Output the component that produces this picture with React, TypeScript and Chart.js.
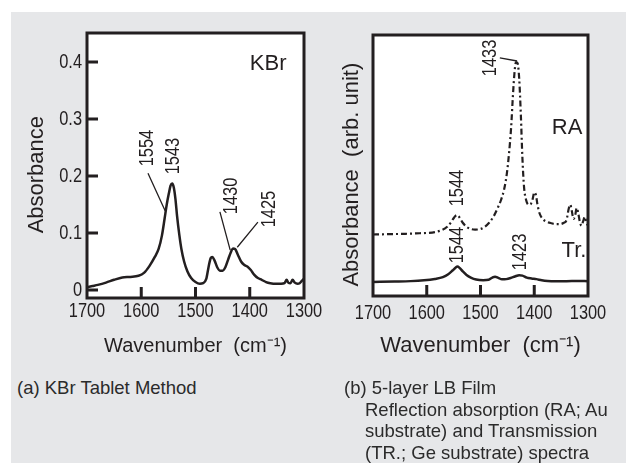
import { useEffect, useRef } from "react";
import { Chart, registerables } from "chart.js";

Chart.register(...registerables);

// ---------- data ----------
const kbrWavenumber = [
  1700, 1690, 1680, 1665, 1650, 1635, 1620, 1605, 1595, 1585, 1575, 1568, 1562, 1557, 1553, 1549, 1546, 1543,
  1540, 1537, 1534, 1530, 1526, 1521, 1515, 1508, 1500, 1492, 1486, 1480, 1476, 1472, 1469, 1465, 1460, 1455,
  1450, 1445, 1440, 1435, 1431, 1427, 1422, 1416, 1410, 1404, 1398, 1392, 1385, 1378, 1370, 1362, 1352, 1342,
  1336, 1332, 1329, 1325, 1321, 1317, 1312, 1308, 1304, 1300,
];
const kbrAbsorbance = [
  0.005, 0.007, 0.009, 0.013, 0.018, 0.022, 0.023, 0.025, 0.03, 0.042, 0.058, 0.072, 0.095, 0.125, 0.15, 0.17,
  0.183, 0.187, 0.18, 0.16, 0.13, 0.098, 0.072, 0.05, 0.033, 0.021, 0.014, 0.011, 0.012, 0.02, 0.04, 0.056,
  0.058, 0.052, 0.04, 0.034, 0.034, 0.04, 0.053, 0.066, 0.073, 0.072, 0.062, 0.05, 0.044, 0.041, 0.035, 0.027,
  0.021, 0.018, 0.014, 0.012, 0.011, 0.011, 0.012, 0.018, 0.013, 0.012, 0.018, 0.013, 0.011, 0.012, 0.016, 0.02,
];

const raWavenumber = [
  1700, 1680, 1660, 1640, 1620, 1600, 1585, 1572, 1562, 1555, 1549, 1544, 1539, 1533, 1526, 1518, 1510, 1500,
  1492, 1484, 1476, 1468, 1462, 1456, 1451, 1447, 1443, 1440, 1437, 1434, 1431, 1428, 1425, 1422, 1419, 1415,
  1411, 1407, 1403, 1400, 1397, 1394, 1390, 1384, 1376, 1368, 1360, 1352, 1345, 1340, 1336, 1333, 1330, 1327,
  1324, 1321, 1318, 1315, 1312, 1309, 1306, 1303, 1300,
];
const raSignal = [
  0.215, 0.216, 0.217, 0.218, 0.22, 0.222, 0.226, 0.235, 0.25, 0.27, 0.292, 0.303, 0.292, 0.268, 0.25, 0.24,
  0.237, 0.24, 0.25, 0.268, 0.295, 0.335, 0.37, 0.42, 0.49, 0.58, 0.7, 0.83, 0.94, 0.995, 0.99, 0.92, 0.76,
  0.56, 0.43, 0.37, 0.35, 0.352, 0.375, 0.405, 0.395, 0.35, 0.31, 0.285, 0.272, 0.266, 0.262, 0.262, 0.268,
  0.28, 0.33, 0.35, 0.32, 0.285, 0.3, 0.335, 0.31, 0.27, 0.255, 0.275, 0.295, 0.27, 0.255,
];

const trWavenumber = [
  1700, 1660, 1630, 1605, 1585, 1570, 1560, 1552, 1546, 1543, 1539, 1533, 1526, 1518, 1508, 1495, 1485, 1478,
  1473, 1467, 1460, 1452, 1444, 1436, 1428, 1422, 1414, 1405, 1396, 1386, 1375, 1360, 1340, 1320, 1300,
];
const trSignal = [
  0.0, 0.002, 0.004, 0.008, 0.014, 0.022, 0.035, 0.052, 0.066, 0.07, 0.064, 0.048, 0.032, 0.02, 0.011, 0.008,
  0.01, 0.02, 0.024, 0.019, 0.012, 0.013, 0.018, 0.025, 0.031, 0.029, 0.02, 0.016, 0.013, 0.008, 0.005, 0.004,
  0.004, 0.005, 0.004,
];

const xTickValues = [1700, 1600, 1500, 1400, 1300];
const innerXTicks = [1600, 1500, 1400];
const kbrYTickValues = [0, 0.1, 0.2, 0.3, 0.4];

type Label = { text: string; x: number; y: number };

const kbrPeakLabels: Label[] = [
  { text: "1554", x: 1589, y: 0.249 },
  { text: "1543", x: 1541, y: 0.235 },
  { text: "1430", x: 1433, y: 0.165 },
  { text: "1425", x: 1363, y: 0.142 },
];
const kbrLeaders = [
  [1587.6, 0.205, 1556, 0.139],
  [1455, 0.137, 1436, 0.07],
  [1385, 0.119, 1423, 0.075],
];
const kbrTags: Label[] = [{ text: "KBr", x: 1366, y: 0.396 }];

const filmPeakLabels: Label[] = [
  { text: "1433", x: 1481, y: 1.014 },
  { text: "1544", x: 1542, y: 0.425 },
  { text: "1544", x: 1542, y: 0.167 },
  { text: "1423", x: 1426, y: 0.136 },
];
const filmLeaders = [[1464, 1.014, 1432, 1.0]];
const filmTags: Label[] = [
  { text: "RA", x: 1339, y: 0.697 },
  { text: "Tr.", x: 1326, y: 0.14 },
];

// ---------- styling ----------
const INK = "#231f20";
const SANS = "'Liberation Sans', Arial, Helvetica, sans-serif";
const PANEL = "#e6e7e9";
const CONDENSE = 0.82;

function condensedText(
  ctx: CanvasRenderingContext2D,
  text: string,
  x: number,
  y: number,
  rot: number,
  align: CanvasTextAlign
) {
  ctx.save();
  ctx.translate(x, y);
  if (rot) ctx.rotate(rot);
  ctx.scale(CONDENSE, 1);
  ctx.textAlign = align;
  ctx.fillText(text, 0, 0);
  ctx.restore();
}

function makeDecor(p: {
  tickX: number[];
  tickY: number[];
  labelX: number[];
  labelY: number[];
  labelYFormat: (v: number) => string;
  xLabelOffset: number;
  rotated: Label[];
  upright: Label[];
  leaders: number[][];
}) {
  return {
    id: "decor",
    beforeDraw(chart: any) {
      const { ctx, chartArea: a } = chart;
      ctx.save();
      ctx.fillStyle = "#ffffff";
      ctx.fillRect(a.left, a.top, a.right - a.left, a.bottom - a.top);
      ctx.restore();
    },
    afterDraw(chart: any) {
      const { ctx, chartArea: a } = chart;
      const x = chart.scales.x;
      const y = chart.scales.y;
      ctx.save();
      ctx.strokeStyle = INK;
      ctx.lineWidth = 3;
      ctx.strokeRect(a.left, a.top, a.right - a.left, a.bottom - a.top);
      ctx.beginPath();
      p.tickX.forEach((v) => {
        const px = x.getPixelForValue(v);
        ctx.moveTo(px, a.bottom);
        ctx.lineTo(px, a.bottom - 11);
      });
      p.tickY.forEach((v) => {
        const py = y.getPixelForValue(v);
        ctx.moveTo(a.left, py);
        ctx.lineTo(a.left + 11, py);
      });
      ctx.stroke();

      ctx.lineWidth = 1.3;
      ctx.beginPath();
      p.leaders.forEach(([x1, y1, x2, y2]) => {
        ctx.moveTo(x.getPixelForValue(x1), y.getPixelForValue(y1));
        ctx.lineTo(x.getPixelForValue(x2), y.getPixelForValue(y2));
      });
      ctx.stroke();

      ctx.fillStyle = INK;
      ctx.textBaseline = "middle";
      ctx.font = `20px ${SANS}`;
      // axis tick labels (positioned by the scales)
      p.labelX.forEach((v) => {
        condensedText(ctx, String(v), x.getPixelForValue(v), a.bottom + p.xLabelOffset, 0, "center");
      });
      p.labelY.forEach((v) => {
        condensedText(ctx, p.labelYFormat(v), a.left - 5, y.getPixelForValue(v), 0, "right");
      });
      // peak labels
      p.rotated.forEach((l) => {
        condensedText(ctx, l.text, x.getPixelForValue(l.x), y.getPixelForValue(l.y), -Math.PI / 2, "center");
      });
      ctx.font = `22px ${SANS}`;
      ctx.textAlign = "center";
      p.upright.forEach((l) => {
        ctx.fillText(l.text, x.getPixelForValue(l.x), y.getPixelForValue(l.y));
      });
      ctx.restore();
    },
  };
}

function xScale(height: number, titleSize: number, titlePad: number) {
  return {
    type: "linear",
    reverse: true,
    min: 1300,
    max: 1700,
    afterBuildTicks: (s: any) => {
      s.ticks = xTickValues.map((v) => ({ value: v }));
    },
    afterFit: (s: any) => {
      s.height = height;
      s.paddingLeft = 0;
      s.paddingRight = 0;
    },
    grid: { display: false, drawTicks: false },
    border: { display: false },
    ticks: { display: false },
    title: {
      display: true,
      text: "Wavenumber  (cm⁻¹)",
      font: { family: SANS, size: titleSize },
      color: INK,
      padding: { top: 0, bottom: titlePad },
    },
  };
}

function kbrConfig(): any {
  return {
    type: "line",
    data: {
      datasets: [
        {
          label: "KBr",
          data: kbrWavenumber.map((w, i) => ({ x: w, y: kbrAbsorbance[i] })),
          borderColor: INK,
          borderWidth: 2.5,
          pointRadius: 0,
          cubicInterpolationMode: "monotone",
          fill: false,
        },
      ],
    },
    options: {
      responsive: false,
      animation: false,
      events: [],
      layout: { padding: { left: 0, top: 33, right: 26, bottom: 0 } },
      plugins: { legend: { display: false }, tooltip: { enabled: false } },
      scales: {
        x: xScale(72, 20, 12),
        y: {
          type: "linear",
          min: -0.014,
          max: 0.4509,
          afterBuildTicks: (s: any) => {
            s.ticks = kbrYTickValues.map((v) => ({ value: v }));
          },
          afterFit: (s: any) => {
            s.width = 87;
            s.paddingTop = 0;
            s.paddingBottom = 0;
          },
          grid: { display: false, drawTicks: false },
          border: { display: false },
          ticks: { display: false },
          title: {
            display: true,
            text: "Absorbance   ",
            font: { family: SANS, size: 22 },
            color: INK,
            padding: { top: 24, bottom: 0 },
          },
        },
      },
    },
    plugins: [
      makeDecor({
        tickX: innerXTicks,
        tickY: kbrYTickValues,
        labelX: xTickValues,
        labelY: kbrYTickValues,
        labelYFormat: (v) => (v === 0 ? "0" : v.toFixed(1)),
        xLabelOffset: 13.5,
        rotated: kbrPeakLabels,
        upright: kbrTags,
        leaders: kbrLeaders,
      }),
    ],
  };
}

function filmConfig(): any {
  return {
    type: "line",
    data: {
      datasets: [
        {
          label: "RA",
          data: raWavenumber.map((w, i) => ({ x: w, y: raSignal[i] })),
          borderColor: INK,
          borderWidth: 2.2,
          borderDash: [6, 3, 2, 3],
          pointRadius: 0,
          cubicInterpolationMode: "monotone",
          fill: false,
        },
        {
          label: "Tr.",
          data: trWavenumber.map((w, i) => ({ x: w, y: trSignal[i] })),
          borderColor: INK,
          borderWidth: 2.5,
          pointRadius: 0,
          cubicInterpolationMode: "monotone",
          fill: false,
        },
      ],
    },
    options: {
      responsive: false,
      animation: false,
      events: [],
      layout: { padding: { left: 0, top: 35, right: 38, bottom: 0 } },
      plugins: { legend: { display: false }, tooltip: { enabled: false } },
      scales: {
        x: xScale(74, 22, 11),
        y: {
          type: "linear",
          min: -0.0633,
          max: 1.1176,
          afterFit: (s: any) => {
            s.width = 53;
            s.paddingTop = 0;
            s.paddingBottom = 0;
          },
          grid: { display: false, drawTicks: false },
          border: { display: false },
          ticks: { display: false },
          title: {
            display: true,
            text: "Absorbance  (arb. unit)   ",
            font: { family: SANS, size: 22 },
            color: INK,
            padding: { top: 19, bottom: 0 },
          },
        },
      },
    },
    plugins: [
      makeDecor({
        tickX: innerXTicks,
        tickY: [],
        labelX: xTickValues,
        labelY: [],
        labelYFormat: (v) => String(v),
        xLabelOffset: 17.5,
        rotated: filmPeakLabels,
        upright: filmTags,
        leaders: filmLeaders,
      }),
    ],
  };
}

function ChartCanvas(props: { make: () => any; left: number; top: number; width: number; height: number }) {
  const ref = useRef<HTMLCanvasElement>(null);
  useEffect(() => {
    const chart = new Chart(ref.current as HTMLCanvasElement, props.make());
    return () => chart.destroy();
  }, []);
  return (
    <canvas
      ref={ref}
      width={props.width}
      height={props.height}
      style={{
        position: "absolute",
        left: props.left,
        top: props.top,
        width: props.width,
        height: props.height,
        display: "block",
      }}
    />
  );
}

const captionStyle: any = {
  position: "absolute",
  fontFamily: SANS,
  fontSize: 18.5,
  lineHeight: "21.7px",
  color: "#2b2b2b",
  whiteSpace: "nowrap",
};

export default function App() {
  return (
    <div
      style={{
        position: "absolute",
        left: 0,
        top: 0,
        width: 626,
        height: 475,
        overflow: "hidden",
        background: "#ffffff",
      }}
    >
      <div style={{ position: "absolute", left: 11, top: 12, width: 615, height: 451, background: PANEL }} />
      <ChartCanvas make={kbrConfig} left={0} top={0} width={330} height={370} />
      <ChartCanvas make={filmConfig} left={320} top={0} width={306} height={370} />
      <div style={{ ...captionStyle, left: 17, top: 377 }}>(a) KBr Tablet Method</div>
      <div style={{ ...captionStyle, left: 344, top: 377 }}>
        <div>(b) 5-layer LB Film</div>
        <div style={{ paddingLeft: 21 }}>Reflection absorption (RA; Au</div>
        <div style={{ paddingLeft: 21 }}>substrate) and Transmission</div>
        <div style={{ paddingLeft: 21 }}>(TR.; Ge substrate) spectra</div>
      </div>
    </div>
  );
}
